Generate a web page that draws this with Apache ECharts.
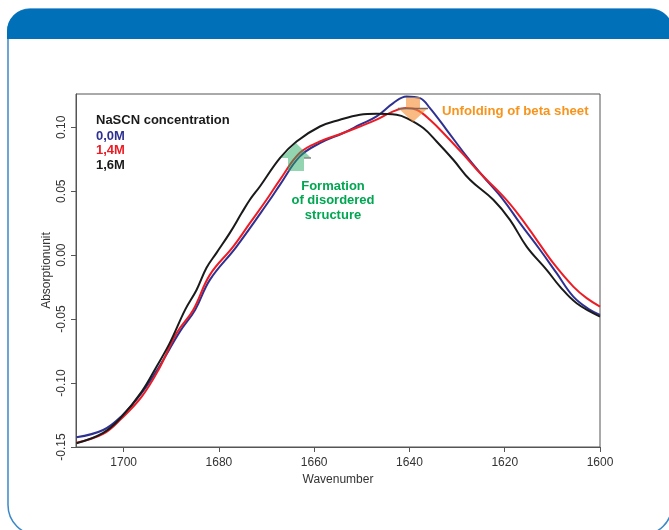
<!DOCTYPE html>
<html>
<head>
<meta charset="utf-8">
<script src="https://cdn.jsdelivr.net/npm/echarts@6/dist/echarts.min.js"></script>
<style>
html,body{margin:0;padding:0;background:#fff;}
#c{width:669px;height:530px;}
</style>
</head>
<body>
<div id="c"></div>
<script>
// ---- data (wavenumber, absorbance) ----
const seriesNames = ['0,0M', '1,4M', '1,6M'];
const xTicks = [1600, 1620, 1640, 1660, 1680, 1700];
const yTicks = [-0.15, -0.10, -0.05, 0.00, 0.05, 0.10];

const data00M = [
  [1709.9,-0.1424],[1704.3,-0.1367],[1700.4,-0.1257],[1696.2,-0.1077],[1692.7,-0.0882],
  [1688.2,-0.0598],[1685.0,-0.0428],[1681.9,-0.0193],[1676.3,0.0067],[1669.3,0.0433],
  [1667.2,0.0550],[1663.0,0.0772],[1658.8,0.0876],[1653.9,0.0955],[1650.4,0.1020],
  [1646.9,0.1085],[1643.4,0.1189],[1640.6,0.1241],[1637.8,0.1228],[1635.7,0.1150],
  [1632.2,0.0980],[1628.0,0.0772],[1624.5,0.0615],[1620.3,0.0433],[1616.8,0.0250],
  [1612.6,0.0042],[1609.1,-0.0141],[1605.6,-0.0324],[1602.1,-0.0428],[1600.0,-0.0467]
];
const data14M = [
  [1709.9,-0.1466],[1704.3,-0.1398],[1700.4,-0.1275],[1696.2,-0.1106],[1692.7,-0.0898],
  [1688.9,-0.0610],[1685.4,-0.0428],[1681.9,-0.0154],[1677.0,0.0067],[1673.5,0.0250],
  [1670.0,0.0433],[1667.2,0.0589],[1663.0,0.0800],[1658.8,0.0889],[1653.9,0.0955],
  [1650.4,0.1006],[1646.9,0.1059],[1643.4,0.1124],[1640.6,0.1150],[1638.5,0.1137],
  [1635.7,0.1059],[1632.2,0.0928],[1628.0,0.0759],[1625.2,0.0642],[1620.3,0.0459],
  [1616.8,0.0302],[1613.3,0.0120],[1609.8,-0.0063],[1605.6,-0.0246],[1602.8,-0.0336],
  [1600.0,-0.0402]
];
const data16M = [
  [1709.9,-0.1471],[1704.3,-0.1390],[1700.4,-0.1263],[1696.2,-0.1067],[1693.1,-0.0872],
  [1690.3,-0.0686],[1687.1,-0.0428],[1684.7,-0.0272],[1682.6,-0.0099],[1680.5,0.0018],
  [1677.7,0.0174],[1675.2,0.0331],[1673.5,0.0433],[1671.4,0.0537],[1667.2,0.0759],
  [1663.7,0.0889],[1658.8,0.1006],[1654.6,0.1059],[1650.4,0.1098],[1646.9,0.1106],
  [1642.7,0.1098],[1640.6,0.1072],[1637.1,0.0994],[1634.3,0.0889],[1630.8,0.0746],
  [1627.3,0.0589],[1622.4,0.0433],[1618.9,0.0276],[1615.4,0.0067],[1611.2,-0.0115],
  [1608.4,-0.0246],[1604.9,-0.0376],[1600.0,-0.0480]
];

const colors = ['#2e3192', '#ed1c24', '#1a1a1a'];
const FONT = '"Liberation Sans", Arial, sans-serif';

const chart = echarts.init(document.getElementById('c'), null, {renderer: 'canvas'});

const option = {
  animation: false,
  backgroundColor: '#ffffff',
  textStyle: {fontFamily: FONT},
  grid: {
    left: 76, right: 69, top: 94, bottom: 83,
    show: true, borderColor: '#555', borderWidth: 1
  },
  legend: {
    orient: 'vertical',
    left: 86, top: 124,
    icon: 'none',
    itemWidth: 0, itemHeight: 0, itemGap: 0,
    selectedMode: false,
    textStyle: {fontFamily: FONT, fontSize: 13, fontWeight: 'bold', lineHeight: 14.5},
    data: seriesNames.map((n, i) => ({name: n, textStyle: {color: colors[i]}}))
  },
  xAxis: {
    type: 'value',
    min: 1600, max: 1710, inverse: true,
    name: 'Wavenumber', nameLocation: 'middle', nameGap: 24,
    nameTextStyle: {fontFamily: FONT, fontSize: 12, color: '#333'},
    axisLine: {onZero: false, lineStyle: {color: '#555', width: 1}},
    axisTick: {show: true, length: 5, customValues: xTicks, lineStyle: {color: '#555'}},
    axisLabel: {customValues: xTicks, fontFamily: FONT, fontSize: 12, color: '#333', margin: 10,
      formatter: v => String(v)},
    splitLine: {show: false}
  },
  yAxis: {
    type: 'value',
    min: -0.15, max: 0.126,
    name: 'Absorptionunit', nameLocation: 'middle', nameGap: 23, nameRotate: 90,
    nameMoveOverlap: false,
    nameTextStyle: {fontFamily: FONT, fontSize: 12, color: '#333'},
    axisLine: {show: true, onZero: false, lineStyle: {color: '#555', width: 1}},
    axisTick: {show: true, length: 5, customValues: yTicks, lineStyle: {color: '#555'}},
    axisLabel: {
      customValues: yTicks, rotate: 90, fontFamily: FONT, fontSize: 12, color: '#333', margin: 8,
      formatter: v => v.toFixed(2)
    },
    splitLine: {show: false}
  },
  series: [
    {name: seriesNames[0], type: 'line', data: data00M, smooth: 0.4, showSymbol: false,
     lineStyle: {color: colors[0], width: 2}, itemStyle: {color: colors[0]}, z: 2},
    {name: seriesNames[1], type: 'line', data: data14M, smooth: 0.4, showSymbol: false,
     lineStyle: {color: colors[1], width: 2}, itemStyle: {color: colors[1]}, z: 3},
    {name: seriesNames[2], type: 'line', data: data16M, smooth: 0.4, showSymbol: false,
     lineStyle: {color: colors[2], width: 2}, itemStyle: {color: colors[2]}, z: 4}
  ],
  graphic: [
    // outer frame
    {type: 'rect', z: -10, silent: true,
     shape: {x: 8, y: 9, width: 664, height: 526, r: [22, 22, 30, 30]},
     style: {fill: 'none', stroke: '#3a88c8', lineWidth: 1.5}},
    // header band
    {type: 'rect', z: -9, silent: true,
     shape: {x: 7, y: 9, width: 666, height: 30, r: [22, 22, 0, 0]},
     style: {fill: '#0071b9'}},
    // legend heading
    {type: 'text', x: 96, y: 120, z: 10,
     style: {text: 'NaSCN concentration', fill: '#1a1a1a', font: 'bold 13px ' + FONT,
             verticalAlign: 'middle'}},
    // green up arrow
    {type: 'polygon', z: 20, silent: true,
     shape: {points: [[296,143],[311,158],[304,158],[304,171],[288,171],[288,158],[281,158]]},
     style: {fill: 'rgba(40,170,100,0.5)'}},
    {type: 'line', z: 21, silent: true,
     shape: {x1: 304, y1: 158, x2: 311, y2: 158},
     style: {stroke: '#8a8a8a', lineWidth: 1.5}},
    // orange down arrow
    {type: 'polygon', z: 20, silent: true,
     shape: {points: [[406,97],[420,97],[420,108],[428,108],[413,122],[398,108],[406,108]]},
     style: {fill: 'rgba(247,140,50,0.6)'}},
    {type: 'line', z: 21, silent: true,
     shape: {x1: 398, y1: 108.5, x2: 428, y2: 108.5},
     style: {stroke: '#7a6a60', lineWidth: 1.5}},
    {type: 'line', z: 21, silent: true,
     shape: {x1: 406, y1: 97.5, x2: 420, y2: 97.5},
     style: {stroke: '#8a7a70', lineWidth: 1}},
    // annotation texts
    {type: 'text', z: 22, x: 442, y: 111,
     style: {text: 'Unfolding of beta sheet', fill: '#f7941d', font: 'bold 13.2px ' + FONT,
             verticalAlign: 'middle'}},
    {type: 'text', z: 22, x: 333, y: 179,
     style: {text: 'Formation\nof disordered\nstructure', fill: '#00a651', font: 'bold 13px ' + FONT,
             align: 'center', verticalAlign: 'top', lineHeight: 14.5}}
  ]
};
chart.setOption(option);
</script>
</body>
</html>
